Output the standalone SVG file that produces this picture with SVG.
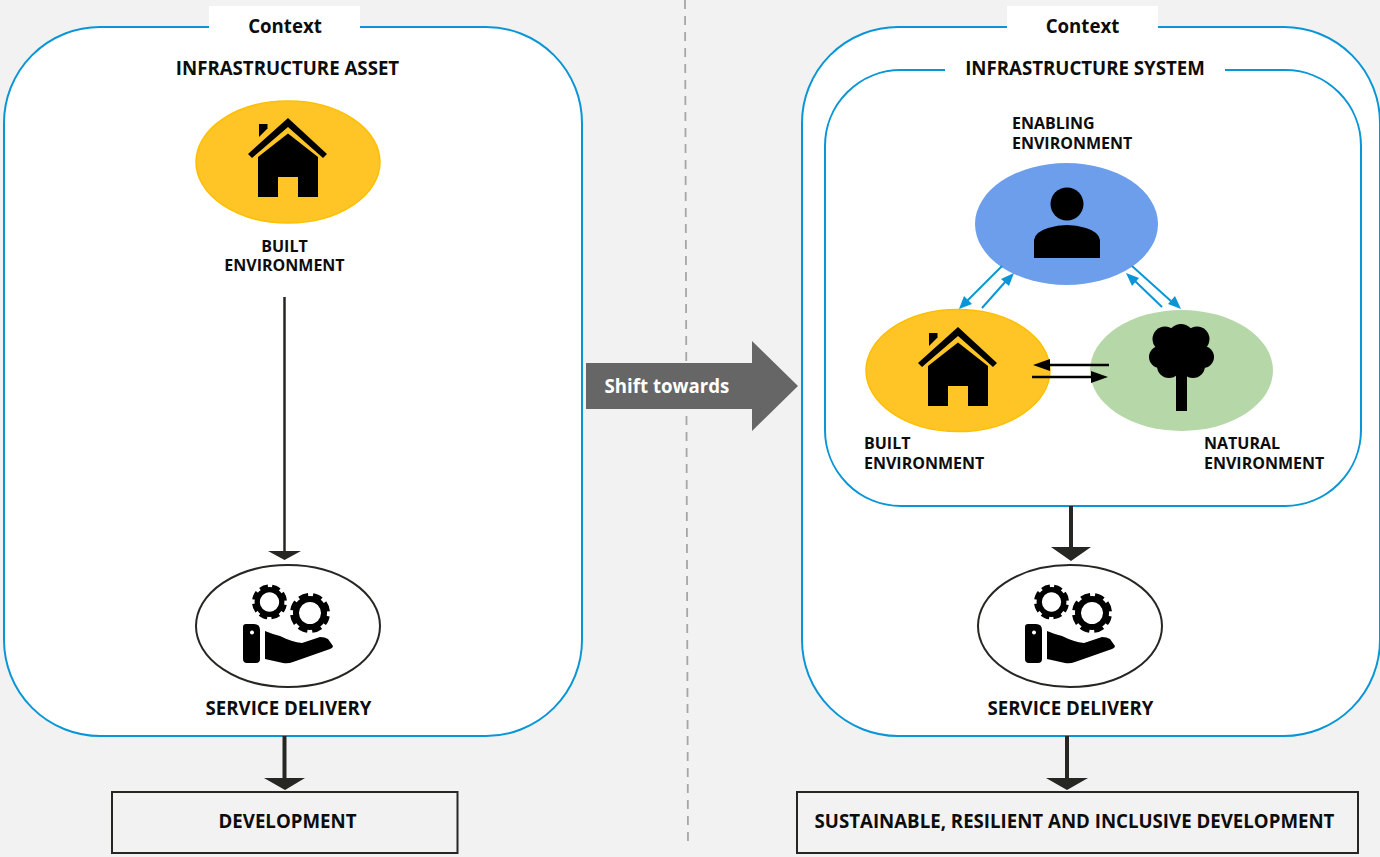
<svg xmlns="http://www.w3.org/2000/svg" xmlns:xlink="http://www.w3.org/1999/xlink" width="1380" height="857" viewBox="0 0 1380 857">
<style>
text{font-family:"Open Sans","Noto Sans","Liberation Sans",sans-serif;font-weight:700;fill:#0d0d0d}
.c{text-anchor:middle}
.ctx{font-size:18.67px}
.h{font-size:18.67px}
.s{font-size:16px}
.box{fill:#fff;stroke:#0a96d6;stroke-width:2}
.wb{fill:#fff}
.dk{stroke:#262622;fill:none}
.dh{fill:#262622}
.bl{stroke:#0a96d6;stroke-width:2;fill:none}
.bh{fill:#0a96d6}
.k{stroke:#000;stroke-width:2.5;fill:none}
.y{fill:#ffc526;stroke:#ffbf00;stroke-width:1.5}
.tag{fill:#f2f2f2;stroke:#262622;stroke-width:2}
.ring{fill:#fff;stroke:#262622;stroke-width:2}
</style>
<defs>
<symbol id="house" overflow="visible" viewBox="0 0 1380 857" width="1380" height="857">
<path d="M259 124H267.500V128.500L259 137Z"/>
<path d="M248 154L288 118L327 154L323 158L288 127L252 158Z"/>
<path d="M258 197V157L288 133.500L318 157V197H298V177H278V197Z"/>
</symbol>
<g id="gear">
<circle r="0.7" fill="none" stroke="#000" stroke-width="0.3"/>
<circle r="0.9" fill="none" stroke="#000" stroke-width="0.2" stroke-dasharray="0.47 0.2369" stroke-dashoffset="0.235"/>
</g>
<symbol id="svc" overflow="visible" viewBox="0 0 1380 857" width="1380" height="857">
<use xlink:href="#gear" href="#gear" transform="translate(269.500 602) rotate(22.500) scale(17.500)"/>
<use xlink:href="#gear" href="#gear" transform="translate(310 613) rotate(22.500) scale(20)"/>
<path fill-rule="evenodd" d="M246 624H254Q260 624 260 630V659Q260 663 256 663H247Q243 663 243 659V627Q243 624 246 624ZM252 630.500a2 2 0 1 0 .01 0Z"/>
<path d="M265 631Q272 634 280 636Q292 642 302 643L320 637Q325 637 328 639L333 646Q333 648 330 649L293 662Q288 664 283 663L265 659Z"/>
</symbol>
</defs>
<rect width="1380" height="857" fill="#f2f2f2"/>

<path id="divider" d="M685 0L688 847" stroke="#a6a6a6" stroke-width="1.800" stroke-dasharray="9 7" fill="none"/>

<g id="asset-context">
<rect class="box" x="4" y="27" width="578" height="709" rx="96"/>
<rect class="wb" x="209" y="6" width="151" height="40"/>
<text class="c ctx" x="285" y="33">Context</text>
<text class="c h" x="287.500" y="74.500">INFRASTRUCTURE ASSET</text>
</g>

<g id="system-context">
<rect class="box" x="802" y="27" width="578" height="709" rx="96"/>
<rect class="wb" x="1007" y="6" width="151" height="40"/>
<text class="c ctx" x="1082.500" y="33">Context</text>
</g>
<g id="infrastructure-system">
<rect class="box" x="825" y="70" width="536" height="436" rx="76"/>
<rect class="wb" x="945" y="58" width="280" height="24"/>
<text class="c h" x="1085" y="74.500">INFRASTRUCTURE SYSTEM</text>
</g>

<g id="connectors">
<path class="dk" stroke-width="2.500" d="M284.500 297V552"/>
<path class="dh" d="M268 551H301L284.500 560Z"/>
<path class="dk" stroke-width="4" d="M284.500 736V779"/>
<path class="dh" d="M264 778H305L285 790Z"/>
<path class="dk" stroke-width="4" d="M1067 736V779"/>
<path class="dh" d="M1046 778H1088L1067 790Z"/>
<path class="dk" stroke-width="4" d="M1071 506V548"/>
<path class="dh" d="M1051 547H1091L1071 561Z"/>
</g>

<g id="built-env-left">
<ellipse class="y" cx="288" cy="162" rx="92" ry="61"/>
<use xlink:href="#house" href="#house"/>
<text class="c s" x="284.500" y="251.500">BUILT</text>
<text class="c s" x="284.500" y="271">ENVIRONMENT</text>
</g>
<g id="service-left">
<ellipse class="ring" cx="288" cy="626" rx="92" ry="61"/>
<use xlink:href="#svc" href="#svc"/>
<text class="c h" x="288.500" y="714.500">SERVICE DELIVERY</text>
</g>
<g id="development">
<rect class="tag" x="112" y="792" width="345.500" height="61"/>
<text class="c h" x="287.500" y="827.500">DEVELOPMENT</text>
</g>

<g id="enabling-env">
<ellipse cx="1066.500" cy="224" rx="91.500" ry="61" fill="#6d9eeb"/>
<circle cx="1067" cy="204" r="16.500"/>
<path d="M1034 258V240Q1035 232 1048 228Q1067 222 1086 228Q1099 232 1100 240V258Z"/>
<text class="s" x="1012" y="129">ENABLING</text>
<text class="s" x="1012" y="149">ENVIRONMENT</text>
</g>
<g id="built-env-right">
<ellipse class="y" cx="958" cy="370.500" rx="92" ry="61"/>
<use xlink:href="#house" href="#house" transform="translate(670 209)"/>
<text class="s" x="864" y="448.500">BUILT</text>
<text class="s" x="864" y="468.500">ENVIRONMENT</text>
</g>
<g id="natural-env">
<ellipse cx="1181.500" cy="370.500" rx="91.500" ry="60.500" fill="#b6d7a8"/>
<rect x="1176" y="368" width="11" height="43"/>
<circle cx="1181" cy="337" r="13"/><circle cx="1165" cy="339" r="12.500"/><circle cx="1197" cy="339" r="12.500"/>
<circle cx="1160" cy="357" r="11"/><circle cx="1203" cy="357" r="11"/><circle cx="1169" cy="366" r="12"/><circle cx="1193" cy="366" r="12"/><circle cx="1181" cy="352" r="20"/>
<text class="s" x="1204" y="448.500">NATURAL</text>
<text class="s" x="1204" y="468.500">ENVIRONMENT</text>
</g>
<g id="service-right">
<ellipse class="ring" cx="1070" cy="626" rx="92" ry="61"/>
<use xlink:href="#svc" href="#svc" transform="translate(782 0)"/>
<text class="c h" x="1070.500" y="714.500">SERVICE DELIVERY</text>
</g>
<g id="sustainable">
<rect class="tag" x="797" y="792" width="561" height="61"/>
<text class="c h" x="1074.500" y="827.500">SUSTAINABLE, RESILIENT AND INCLUSIVE DEVELOPMENT</text>
</g>

<g id="system-connectors">
<path class="bl" d="M1002 266L967 301"/><path class="bh" d="M959 309L964 296L972 304Z"/>
<path class="bl" d="M982 308L1006 281"/><path class="bh" d="M1014 273L1009 286L1001 279Z"/>
<path class="bl" d="M1132 266L1172 302"/><path class="bh" d="M1181 309L1168 304L1175 296Z"/>
<path class="bl" d="M1162 307L1135 281"/><path class="bh" d="M1126 273L1139 278L1132 286Z"/>
<path class="k" d="M1109 365H1045"/><path d="M1033 365L1050 359V371Z"/>
<path class="k" d="M1032 377H1095"/><path d="M1108 377L1091 371V383Z"/>
</g>

<g id="shift-arrow">
<path d="M586 363H752V341L798 386L752 431V409H586Z" fill="#666"/>
<text x="604.500" y="393" style="fill:#fff;font-size:18.67px">Shift towards</text>
</g>
</svg>
